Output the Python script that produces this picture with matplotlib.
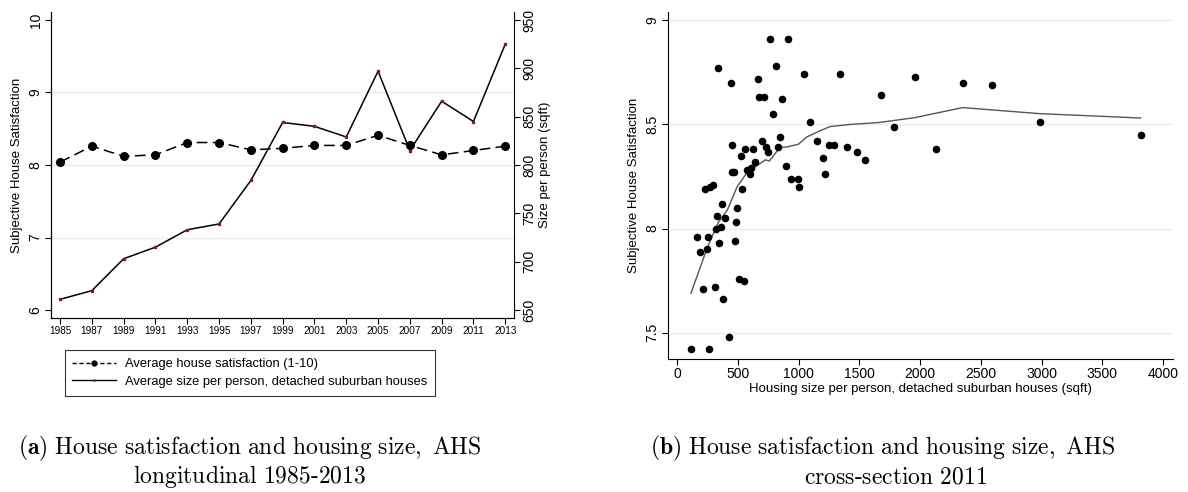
import matplotlib
matplotlib.use("Agg")
import matplotlib.pyplot as plt
from matplotlib.lines import Line2D

plt.rcParams['font.family'] = ['Liberation Sans', 'DejaVu Sans']
plt.rcParams['mathtext.fontset'] = 'cm'

# ---- Panel (a) data ----
years = [1985, 1987, 1989, 1991, 1993, 1995, 1997, 1999, 2001, 2003, 2005, 2007, 2009, 2011, 2013]
satisfaction = [8.04, 8.26, 8.12, 8.14, 8.31, 8.31, 8.21, 8.23, 8.27, 8.27, 8.41, 8.27, 8.14, 8.20, 8.26]
size_pp = [661, 670, 703, 715, 733, 739, 784, 844, 840, 829, 897, 815, 866, 845, 925]
year_ticks = years
sat_ticks = [6, 7, 8, 9, 10]
size_ticks = [650, 700, 750, 800, 850, 900, 950]

# ---- Panel (b) data ----
house_size = [115, 263, 431, 379, 310, 217, 513, 549, 167, 255, 192, 247, 318, 359, 346, 326,
              398, 373, 475, 486, 494, 538, 233, 269, 294, 450, 466, 455, 529, 560, 573, 598,
              606, 623, 642, 664, 672, 716, 700, 733, 749, 763, 793, 812, 867, 831, 850, 916,
              897, 941, 996, 1007, 1043, 1092, 1150, 1202, 1221, 1248, 1295, 1342, 1399, 1481,
              1550, 1676, 1783, 442, 335, 1959, 2132, 2351, 2595, 2985, 3816]
house_sat = [7.42, 7.42, 7.48, 7.66, 7.72, 7.71, 7.76, 7.75, 7.96, 7.96, 7.89, 7.90, 8.00, 8.01,
             7.93, 8.06, 8.05, 8.12, 7.94, 8.03, 8.10, 8.19, 8.19, 8.20, 8.21, 8.27, 8.27, 8.40,
             8.35, 8.38, 8.28, 8.26, 8.29, 8.38, 8.32, 8.72, 8.63, 8.63, 8.42, 8.39, 8.37, 8.91,
             8.55, 8.78, 8.62, 8.39, 8.44, 8.91, 8.30, 8.24, 8.24, 8.20, 8.74, 8.51, 8.42, 8.34,
             8.26, 8.40, 8.40, 8.74, 8.39, 8.37, 8.33, 8.64, 8.49, 8.70, 8.77, 8.73, 8.38, 8.70,
             8.69, 8.51, 8.45]
fit_x = [115, 250, 340, 415, 494, 571, 653, 727, 760, 848, 903, 999, 1068, 1178, 1260, 1426,
         1671, 1959, 2351, 2985, 3816]
fit_y = [7.69, 7.91, 8.03, 8.09, 8.20, 8.265, 8.30, 8.33, 8.325, 8.39, 8.392, 8.405, 8.44, 8.47,
         8.49, 8.50, 8.51, 8.533, 8.581, 8.552, 8.531]
hs_xticks = [0, 500, 1000, 1500, 2000, 2500, 3000, 3500, 4000]
hs_yticks = [7.5, 8, 8.5, 9]

grid_c = '#e6eef0'
W, H = 1188, 492
fig = plt.figure(figsize=(W / 100, H / 100), dpi=100)

def frac(x0, y0, x1, y1):
    return [x0 / W, 1 - y1 / H, (x1 - x0) / W, (y1 - y0) / H]

# ---------------- Panel (a) ----------------
ax = fig.add_axes(frac(51, 12, 514, 318))
ax2 = ax.twinx()
ax.set_xlim(1984.43, 2013.55)
ax.set_ylim(5.89, 10.11)
ax2.set_ylim(641.7, 958.3)
for s in [7, 8, 9]:
    ax.axhline(s, color=grid_c, lw=1.0, zorder=0)
ax.plot(years, satisfaction, color='black', ls=(0, (7, 3.5)), lw=1.1, marker='o',
        markersize=5.5, markerfacecolor='black', markeredgecolor='black', zorder=3)
ax2.plot(years, size_pp, color='black', lw=1.1, marker='s', markersize=1.6,
         markerfacecolor='#8b1a1a', markeredgecolor='#8b1a1a', zorder=3)
ax.set_xticks(year_ticks)
ax.set_xticklabels([str(y) for y in year_ticks], fontsize=7.2)
ax.set_yticks(sat_ticks)
ax.set_yticklabels([str(v) for v in sat_ticks], rotation=90, va='center', fontsize=10)
ax2.set_yticks(size_ticks)
ax2.set_yticklabels([str(v) for v in size_ticks], rotation=90, va='center', fontsize=10)
ax.set_ylabel('Subjective House Satisfaction', fontsize=9.5, labelpad=4)
ax2.set_ylabel('Size per person (sqft)', fontsize=9.5, labelpad=2)
for a in (ax, ax2):
    a.spines['top'].set_visible(False)
    a.tick_params(direction='out', length=4, width=0.8, pad=2)
ax.spines['right'].set_visible(False)
ax.set_facecolor('none')

handles = [Line2D([], [], color='black', ls=(0, (3, 2)), lw=1.0, marker='o', markersize=3.5),
           Line2D([], [], color='black', lw=1.0, marker='s', markersize=0.8,
                  markerfacecolor='#8b1a1a', markeredgecolor='#8b1a1a')]
leg = fig.legend(handles, ['Average house satisfaction (1-10)',
                           'Average size per person, detached suburban houses'],
                 loc='center', bbox_to_anchor=(250 / W, 1 - 373 / H), fontsize=9.3,
                 frameon=True, fancybox=False, edgecolor='black', numpoints=1,
                 handlelength=3.4, borderpad=0.6, labelspacing=0.45, handletextpad=0.7,
                 borderaxespad=0)
leg.get_frame().set_linewidth(0.8)

# ---------------- Panel (b) ----------------
bx = fig.add_axes(frac(668, 12, 1173, 359))
bx.set_xlim(-74, 4082)
bx.set_ylim(7.374, 9.04)
for s in hs_yticks:
    bx.axhline(s, color=grid_c, lw=1.0, zorder=0)
bx.scatter(house_size, house_sat, s=30, color='black', zorder=3, linewidths=0)
bx.plot(fit_x, fit_y, color='#555555', lw=1.0, zorder=2)
bx.set_xticks(hs_xticks)
bx.set_xticklabels([str(v) for v in hs_xticks], fontsize=10)
bx.set_yticks(hs_yticks)
bx.set_yticklabels(['7.5', '8', '8.5', '9'], rotation=90, va='center', fontsize=10)
bx.set_xlabel('Housing size per person, detached suburban houses (sqft)', fontsize=9.5, labelpad=1)
bx.set_ylabel('Subjective House Satisfaction', fontsize=9.5, labelpad=4)
bx.spines['top'].set_visible(False)
bx.spines['right'].set_visible(False)
bx.tick_params(direction='out', length=4, width=0.8, pad=2)

# ---------------- Captions ----------------
cap_kw = dict(ha='center', va='center', fontsize=17)
fig.text(250 / W, 1 - 448 / H,
         r'$\mathbf{(a)}\ \mathrm{House\ satisfaction\ and\ housing\ size,\ AHS}$', **cap_kw)
fig.text(250 / W, 1 - 477 / H, r'$\mathrm{longitudinal\ 1985\text{-}2013}$', **cap_kw)
fig.text(883 / W, 1 - 448 / H,
         r'$\mathbf{(b)}\ \mathrm{House\ satisfaction\ and\ housing\ size,\ AHS}$', **cap_kw)
fig.text(896 / W, 1 - 477 / H, r'$\mathrm{cross\text{-}section\ 2011}$', **cap_kw)

fig.savefig('out.png', dpi=100)
